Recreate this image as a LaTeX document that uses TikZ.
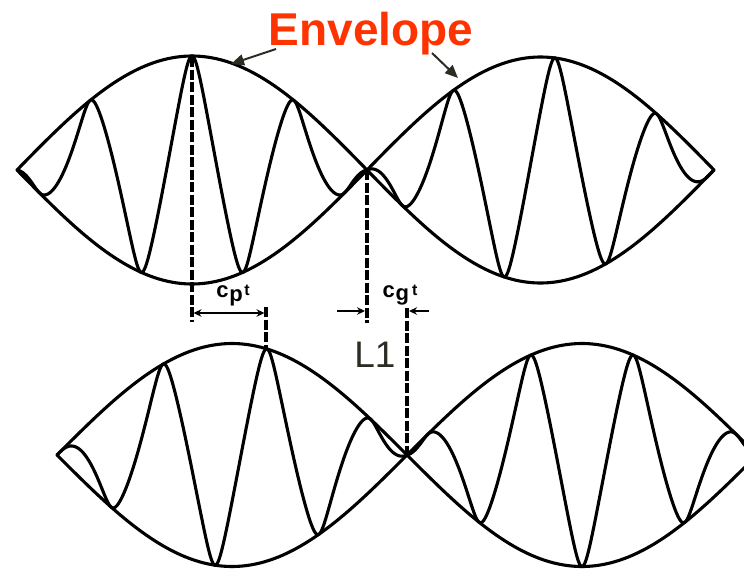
\documentclass[tikz,border=0pt]{standalone}
\usepackage{fontspec}
\setmainfont{Liberation Sans}
\usetikzlibrary{arrows.meta}
\definecolor{envred}{RGB}{255,51,0}
\definecolor{darkgray}{RGB}{45,44,36}
\begin{document}
\begin{tikzpicture}[x=1pt,y=-1pt,
  wave/.style={line width=3.1pt, line join=round, line cap=round},
  dashv/.style={line width=3.4pt, dash pattern=on 10pt off 2.5pt},
  dimline/.style={line width=1.8pt, >={Stealth[length=8pt,width=7.5pt]}},
  envarrow/.style={line width=2pt, darkgray, -{Triangle[length=13pt,width=11pt]}},
  lbl/.style={font=\fontsize{22}{22}\selectfont\bfseries, inner sep=0pt, anchor=base},
  declare function={tri(\t)=asin(0.93*cos(\t))/68.43;}]
\useasboundingbox (0,0) rectangle (744,571);

% ---------- top wave ----------
\draw[wave] plot[domain=17:367, samples=80] (\x,{170-114*sin((\x-17)/350*180)});
\draw[wave] plot[domain=17:367, samples=80] (\x,{170+114*sin((\x-17)/350*180)});
\draw[wave] plot[domain=367:714, samples=80] (\x,{170-113*sin((\x-367)/347*180)});
\draw[wave] plot[domain=367:714, samples=80] (\x,{170+113*sin((\x-367)/347*180)});
\draw[wave] plot[domain=17:367, samples=600] (\x,{170-114*sin((\x-17)/350*180)*tri((\x-192)/102*360)});
\draw[wave] plot[domain=367:714, samples=600] (\x,{170-113*sin((\x-367)/347*180)*tri((\x-555)/102*360)});

% ---------- bottom wave ----------
\begin{scope}
\clip (0,0) rectangle (744,571);
\draw[wave] plot[domain=57:407, samples=80] (\x,{455-111.5*sin((\x-57)/350*180)});
\draw[wave] plot[domain=57:407, samples=80] (\x,{455+111.5*sin((\x-57)/350*180)});
\draw[wave] plot[domain=407:757, samples=80] (\x,{455-111.5*sin((\x-407)/350*180)});
\draw[wave] plot[domain=407:757, samples=80] (\x,{455+111.5*sin((\x-407)/350*180)});
\draw[wave] plot[domain=57:407, samples=600] (\x,{455-111.5*sin((\x-57)/350*180)*tri((\x-267)/104*360)});
\draw[wave] plot[domain=407:757, samples=600] (\x,{455+111.5*sin((\x-407)/350*180)*tri((\x-582)/103*360)});
\end{scope}

% ---------- reference coordinates ----------
\coordinate (p1top) at (192,57);
\coordinate (p1bot) at (192,322);
\coordinate (p2top) at (266,307);
\coordinate (p2bot) at (266,349);
\coordinate (g1top) at (367,170);
\coordinate (g1bot) at (367,323);
\coordinate (g2top) at (407,308);
\coordinate (g2bot) at (407,453);

% dashed verticals
\draw[dashv] (p1top) -- (p1bot);
\draw[dashv] (p2top) -- (p2bot);
\draw[dashv] (g1top) -- (g1bot);
\draw[dashv] (g2top) -- (g2bot);

% c_p t dimension
\coordinate (cpL) at (193.5,313);
\coordinate (cpR) at (264.5,313);
\draw[dimline, <->] (cpL) -- (cpR);
\node[lbl] (cpt) at (233,297) {c\kern1pt\raisebox{-4pt}{p}\kern1.5pt\raisebox{2pt}{\fontsize{16}{16}\selectfont t}};

% c_g t dimension
\coordinate (cgLs) at (337,311);
\coordinate (cgLe) at (365,311);
\coordinate (cgRs) at (429,311);
\coordinate (cgRe) at (409,311);
\draw[dimline, ->] (cgLs) -- (cgLe);
\draw[dimline, ->] (cgRs) -- (cgRe);
\node[lbl] (cgt) at (400,297) {c\kern1pt\raisebox{-3pt}{g}\kern3pt\raisebox{2pt}{\fontsize{16}{16}\selectfont t}};

% L1
\node[font=\fontsize{37}{37}\selectfont, text=darkgray, inner sep=0pt, anchor=base] (L1) at (375,367) {L1};

% Envelope label and arrows
\node[font=\fontsize{46}{46}\selectfont\bfseries, text=envred, inner sep=0pt, anchor=base] (env) at (371,45) {Envelope};
\coordinate (envLs) at (276,49);
\coordinate (envLe) at (231,64);
\coordinate (envRs) at (432,53);
\coordinate (envRe) at (458,78);
\draw[envarrow] (envLs) -- (envLe);
\draw[envarrow] (envRs) -- (envRe);
\end{tikzpicture}
\end{document}
